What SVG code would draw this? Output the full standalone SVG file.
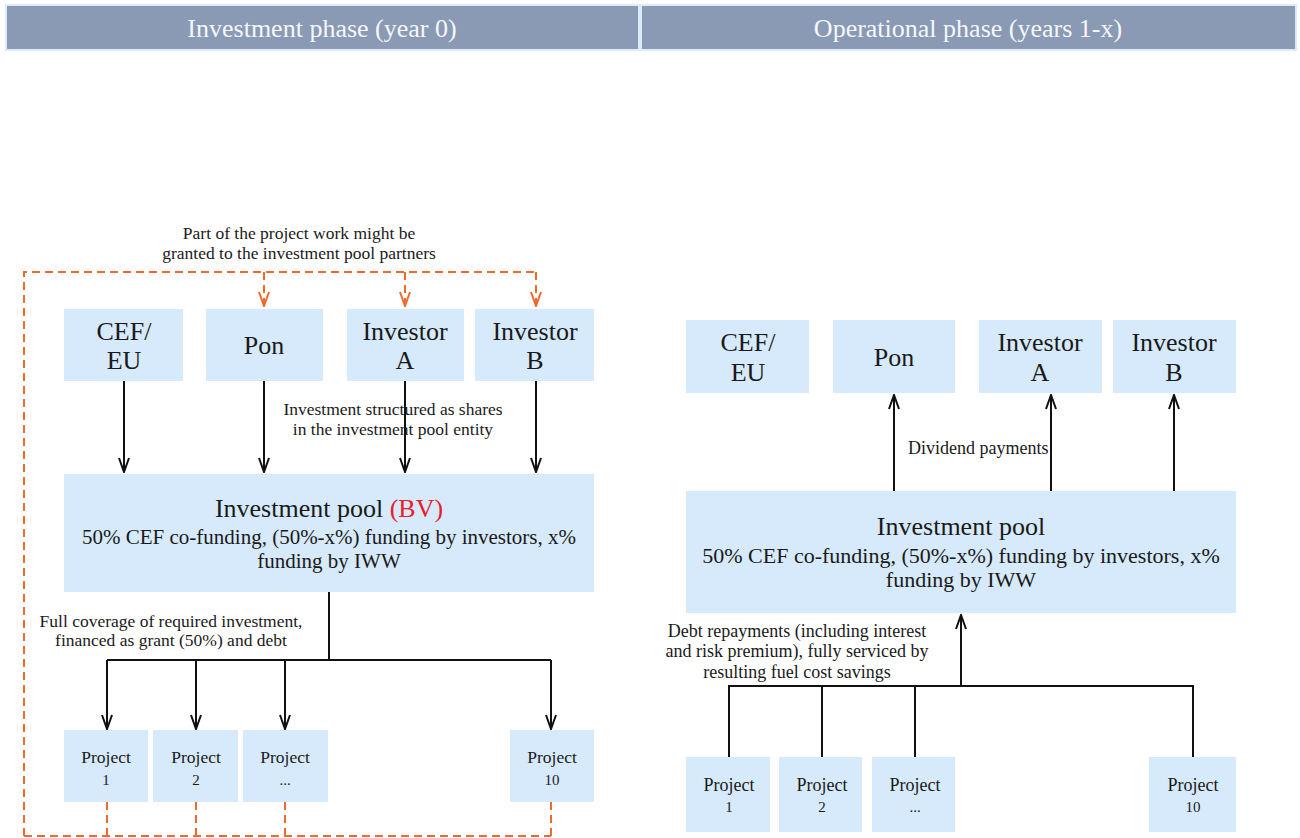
<svg xmlns="http://www.w3.org/2000/svg" width="1300" height="838" viewBox="0 0 1300 838">
<style>
text{font-family:"Liberation Serif","DejaVu Serif",serif;fill:#1a1a1a;text-anchor:middle}
.hdr{fill:#8A9AB4;stroke:#DCEBFA;stroke-width:2}
.ht{fill:#F4F7FC;font-size:26px}
.box{fill:#D6EAFB}
.bl{font-size:26px}
.pl{font-size:26px}
.pt{font-size:21px}
.ptr{font-size:22px}
.prj{font-size:17.5px}
.prjr{font-size:18px}
.num{font-size:15px}
.lbl{font-size:17.5px}
.lblr{font-size:18px}
.blk{stroke:#111;stroke-width:2;fill:none}
.dsh{stroke:#F06A2E;stroke-width:2;fill:none;stroke-dasharray:8,5}
</style>
<defs>
<marker id="ah" viewBox="0 0 16 12" refX="15" refY="6" markerWidth="16" markerHeight="12" markerUnits="userSpaceOnUse" orient="auto">
<path d="M1,1 L15,6 L1,11" fill="none" stroke="#111" stroke-width="2"/>
</marker>
<marker id="ao" viewBox="0 0 16 12" refX="15" refY="6" markerWidth="16" markerHeight="12" markerUnits="userSpaceOnUse" orient="auto">
<path d="M1,1 L15,6 L1,11" fill="none" stroke="#F06A2E" stroke-width="2"/>
</marker>
</defs>
<rect width="1300" height="838" fill="#ffffff"/>
<g id="header-investment">
<rect class="hdr" x="6" y="5" width="633" height="45"/>
<text class="ht" x="322" y="37">Investment phase (year 0)</text>
</g>
<g id="header-operational">
<rect class="hdr" x="641" y="5" width="655" height="45"/>
<text class="ht" x="968" y="37">Operational phase (years 1-x)</text>
</g>

<g id="connectors">
<path class="dsh" d="M24,836 L24,272 L536,272"/>
<path class="dsh" d="M24,836 L551,836"/>
<path class="dsh" d="M107,802 L107,836 M196,802 L196,836 M285,802 L285,836 M551,802 L551,836"/>
<path class="dsh" d="M264,272 L264,306" marker-end="url(#ao)"/>
<path class="dsh" d="M405,272 L405,306" marker-end="url(#ao)"/>
<path class="dsh" d="M536,272 L536,306" marker-end="url(#ao)"/>
<path class="blk" d="M124,381 L124,472" marker-end="url(#ah)"/>
<path class="blk" d="M264,381 L264,472" marker-end="url(#ah)"/>
<path class="blk" d="M405,381 L405,472" marker-end="url(#ah)"/>
<path class="blk" d="M536,381 L536,472" marker-end="url(#ah)"/>
<path class="blk" d="M329,592 L329,660 M107,660 L551,660"/>
<path class="blk" d="M107,660 L107,729" marker-end="url(#ah)"/>
<path class="blk" d="M196,660 L196,729" marker-end="url(#ah)"/>
<path class="blk" d="M285,660 L285,729" marker-end="url(#ah)"/>
<path class="blk" d="M551,660 L551,729" marker-end="url(#ah)"/>
<path class="blk" d="M894,491 L894,395" marker-end="url(#ah)"/>
<path class="blk" d="M1051,491 L1051,395" marker-end="url(#ah)"/>
<path class="blk" d="M1174,491 L1174,395" marker-end="url(#ah)"/>
<path class="blk" d="M961,686 L961,615" marker-end="url(#ah)"/>
<path class="blk" d="M729,757 L729,686 L1193,686 L1193,757 M822,686 L822,757 M915,686 L915,757"/>
</g>

<g id="label-partwork">
<text class="lbl" x="299" y="239">Part of the project work might be</text>
<text class="lbl" x="299" y="259">granted to the investment pool partners</text>
</g>

<g id="l-cef"><rect class="box" x="64" y="309" width="119" height="72"/><text class="bl" x="124" y="340">CEF/</text><text class="bl" x="124" y="369">EU</text></g>
<g id="l-pon"><rect class="box" x="206" y="309" width="117" height="72"/><text class="bl" x="264" y="354">Pon</text></g>
<g id="l-inva"><rect class="box" x="347" y="309" width="117" height="72"/><text class="bl" x="405" y="340">Investor</text><text class="bl" x="405" y="369">A</text></g>
<g id="l-invb"><rect class="box" x="475" y="309" width="119" height="72"/><text class="bl" x="535" y="340">Investor</text><text class="bl" x="535" y="369">B</text></g>

<g id="label-shares">
<text class="lbl" x="393" y="415">Investment structured as shares</text>
<text class="lbl" x="393" y="435">in the investment pool entity</text>
</g>

<g id="l-pool">
<rect class="box" x="64" y="474" width="530" height="118"/>
<text class="pl" x="329" y="517">Investment pool <tspan fill="#E8202A">(BV)</tspan></text>
<text class="pt" x="329" y="544">50% CEF co-funding, (50%-x%) funding by investors, x%</text>
<text class="pt" x="329" y="568">funding by IWW</text>
</g>

<g id="label-coverage">
<text class="lbl" x="171" y="627">Full coverage of required investment,</text>
<text class="lbl" x="171" y="646">financed as grant (50%)  and debt</text>
</g>

<g id="l-p1"><rect class="box" x="64" y="730" width="84" height="72"/><text class="prj" x="106" y="763">Project</text><text class="num" x="106" y="785">1</text></g>
<g id="l-p2"><rect class="box" x="153" y="730" width="85" height="72"/><text class="prj" x="196" y="763">Project</text><text class="num" x="196" y="785">2</text></g>
<g id="l-p3"><rect class="box" x="243" y="730" width="85" height="72"/><text class="prj" x="285" y="763">Project</text><text class="num" x="285" y="785">...</text></g>
<g id="l-p10"><rect class="box" x="510" y="730" width="84" height="72"/><text class="prj" x="552" y="763">Project</text><text class="num" x="552" y="785">10</text></g>

<g id="r-cef"><rect class="box" x="686" y="320" width="123" height="73"/><text class="bl" x="748" y="351">CEF/</text><text class="bl" x="748" y="381">EU</text></g>
<g id="r-pon"><rect class="box" x="833" y="320" width="122" height="73"/><text class="bl" x="894" y="366">Pon</text></g>
<g id="r-inva"><rect class="box" x="979" y="320" width="123" height="73"/><text class="bl" x="1040" y="351">Investor</text><text class="bl" x="1040" y="381">A</text></g>
<g id="r-invb"><rect class="box" x="1113" y="320" width="123" height="73"/><text class="bl" x="1174" y="351">Investor</text><text class="bl" x="1174" y="381">B</text></g>

<g id="label-dividend"><text class="lblr" x="908" y="454" style="text-anchor:start">Dividend payments</text></g>

<g id="r-pool">
<rect class="box" x="686" y="491" width="550" height="122"/>
<text class="pl" x="961" y="535">Investment pool</text>
<text class="ptr" x="961" y="563">50% CEF co-funding, (50%-x%) funding by investors, x%</text>
<text class="ptr" x="961" y="587">funding by IWW</text>
</g>

<g id="label-debt">
<text class="lblr" x="797" y="637">Debt repayments (including interest</text>
<text class="lblr" x="797" y="657">and risk premium), fully serviced by</text>
<text class="lblr" x="797" y="678">resulting fuel cost savings</text>
</g>

<g id="r-p1"><rect class="box" x="686" y="757" width="84" height="75"/><text class="prjr" x="729" y="791">Project</text><text class="num" x="729" y="812">1</text></g>
<g id="r-p2"><rect class="box" x="779" y="757" width="83" height="75"/><text class="prjr" x="822" y="791">Project</text><text class="num" x="822" y="812">2</text></g>
<g id="r-p3"><rect class="box" x="872" y="757" width="83" height="75"/><text class="prjr" x="915" y="791">Project</text><text class="num" x="915" y="812">...</text></g>
<g id="r-p10"><rect class="box" x="1149" y="757" width="87" height="75"/><text class="prjr" x="1193" y="791">Project</text><text class="num" x="1193" y="812">10</text></g>
</svg>
